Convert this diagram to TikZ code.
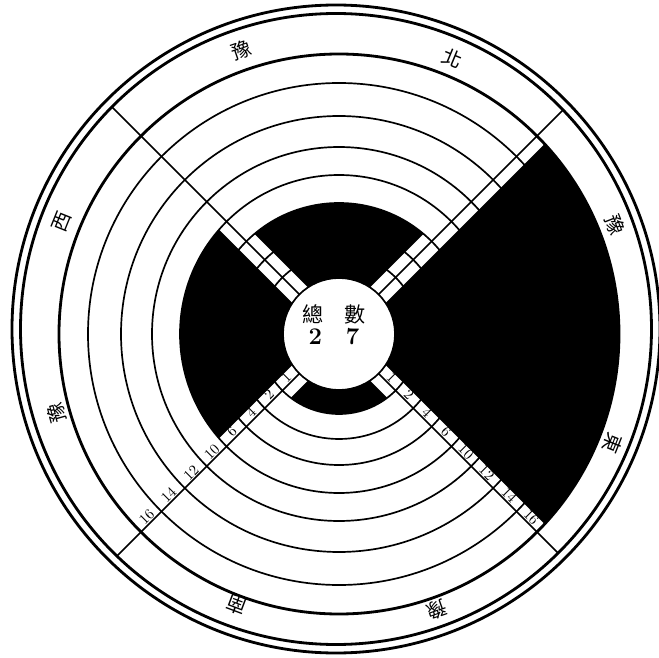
\documentclass[tikz,border=0pt]{standalone}
\usepackage{fontspec}
\newfontfamily\cjk{Noto Sans CJK TC}
\usetikzlibrary{calc}
\tikzset{
  rim/.style   ={draw, line width=2pt},
  ring/.style  ={draw, line width=1.2pt},
  divider/.style={draw, line width=1.1pt},
  hub/.style   ={circle, draw, line width=1.2pt, fill=white, minimum size=28mm, inner sep=0pt},
  region/.style={font=\cjk\fontsize{14}{14}\selectfont, inner sep=0pt},
  count/.style ={font=\fontsize{10.5}{10.5}\selectfont, inner sep=0pt},
}

\begin{document}
\begin{tikzpicture}[x=0.25mm, y=0.25mm]
  \useasboundingbox (-339,-324) rectangle (320,334);
  % outer rims (a little off the centre of the rings)
  \coordinate (rimc) at (-3,5);
  \draw[rim] (rimc) circle (324);
  \draw[rim] (rimc) circle (315.5);
  \draw[rim] (0,0) circle (280);
  % rings
  \foreach \r in {80,105,131,159,187,218,251}
    \draw[ring] (0,0) circle (\r);
  % black sectors, cut back from the dividers
  \foreach \a/\ro in {0/280, 90/131, 180/159, 270/80} {
    \begin{scope}[rotate=\a]
      \clip (15.6,0) -- ++(400,400) -- ++(0,-800) -- cycle;
      \fill[even odd rule] (0,0) circle (\ro) (0,0) circle (56);
    \end{scope}
  }
  % dividers
  \begin{scope}
    \clip (rimc) circle (315.5);
    \foreach \a in {45,135,225,315}
      \draw[divider] (\a:56) -- (\a:340);
  \end{scope}
  % centre
  \node[hub] (hub) at (0,0) {};
  \node[align=center, inner sep=0pt] (total) at (-5,9)
    {{\cjk\fontsize{15}{15}\selectfont 總\quad 數}\\[2pt]{\fontsize{17}{17}\selectfont\bfseries 2\quad 7}};
  % counts along the two lower dividers
  \foreach \n/\m in {1/68, 2/92.5, 4/118, 6/145, 10/173, 12/202.5, 14/234.5, 16/265.5} {
    \node[count, rotate=45]  (sw\n) at ($(225:\m)+(135:6.5)$) {\n};
    \node[count, rotate=-45] (se\n) at ($(315:\m)+(45:6.5)$) {\n};
  }
  % region names
  \foreach \t/\a/\d [count=\i] in {北/67.6/298.6, 豫/109/300.4, 豫/21.5/296.7, 東/-21.7/294.9,
                                   豫/-70.5/292.9, 南/-110.6/289.6, 豫/195.6/292.9, 西/158/298.8}
    \node[region, rotate=\a-90] (reg\i) at (\a:\d) {\t};
\end{tikzpicture}
\end{document}
